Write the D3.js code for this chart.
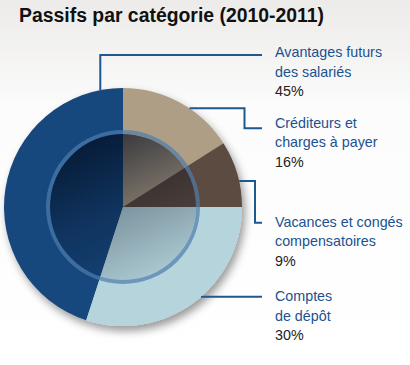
<!DOCTYPE html>
<html>
<head>
<meta charset="utf-8">
<script src="https://cdn.jsdelivr.net/npm/d3@7"></script>
<style>
  body { margin: 0; background: #fff; }
  svg { display: block; font-family: Arial, "Liberation Sans", sans-serif; }
</style>
</head>
<body>
<div id="chart"></div>
<script>
// data
var categories = ["Avantages futurs|des salariés", "Créditeurs et|charges à payer", "Vacances et congés|compensatoires", "Comptes|de dépôt"];
var values = [45, 16, 9, 30];
var percentLabels = ["45%", "16%", "9%", "30%"];
var colors = ["#17477d", "#ae9e86", "#5c4b41", "#b5d4dc"];

// label layout
var anchorAngles = [349, 34, 77.4, 138.4];   // degrees from 12 o'clock where the leader leaves the pie
var elbowX = [null, 244.5, 255, null];
var leaderY = [55, 128.3, 222.7, 296.8];
var labelBaseline = [57.3, 128.2, 227.2, 301.3];

var width = 410,
  height = 365,
  cx = 123,
  cy = 207,
  radius = 119,
  innerR = 75;

var svg = d3.select('#chart')
  .append('svg')
  .attr('width', width)
  .attr('height', height);

var defs = svg.append('defs');

var bg = defs.append('linearGradient').attr('id', 'bg')
  .attr('x1', 0).attr('y1', 0).attr('x2', 0).attr('y2', 1);
bg.append('stop').attr('offset', '0%').attr('stop-color', '#ecebe9');
bg.append('stop').attr('offset', '30%').attr('stop-color', '#fcfcfc');
bg.append('stop').attr('offset', '100%').attr('stop-color', '#ffffff');

var shade = defs.append('linearGradient').attr('id', 'shade')
  .attr('x1', 0.25).attr('y1', 0).attr('x2', 0.7).attr('y2', 1);
shade.append('stop').attr('offset', '0%').attr('stop-color', '#000a1c').attr('stop-opacity', 0.75);
shade.append('stop').attr('offset', '50%').attr('stop-color', '#000a1c').attr('stop-opacity', 0.32);
shade.append('stop').attr('offset', '100%').attr('stop-color', '#000a1c').attr('stop-opacity', 0.05);

var shadow = defs.append('filter').attr('id', 'shadow')
  .attr('x', '-20%').attr('y', '-20%').attr('width', '140%').attr('height', '140%');
shadow.append('feDropShadow')
  .attr('dx', 3).attr('dy', 5).attr('stdDeviation', 4)
  .attr('flood-color', '#000').attr('flood-opacity', 0.4);

svg.append('rect')
  .attr('width', width)
  .attr('height', height)
  .attr('fill', 'url(#bg)');

// title
svg.append('text')
  .attr('x', 19)
  .attr('y', 21.5)
  .style('font-size', '19.4px')
  .style('font-weight', 'bold')
  .style('fill', '#111')
  .text('Passifs par catégorie (2010-2011)');

var total = d3.sum(values);
var start = -values[0] / total * 2 * Math.PI;

var pie = d3.pie()
  .sort(null)
  .startAngle(start)
  .endAngle(start + 2 * Math.PI);

var arc = d3.arc()
  .innerRadius(0)
  .outerRadius(radius);

var g = svg.append('g')
  .attr('transform', 'translate(' + cx + ',' + cy + ')');

var slices = g.append('g')
  .attr('filter', 'url(#shadow)');

slices.selectAll('path')
  .data(pie(values))
  .enter()
  .append('path')
  .attr('d', arc)
  .attr('fill', function(d, i) { return colors[i]; });

// inner glassy disc
g.append('circle')
  .attr('r', innerR - 2)
  .attr('fill', 'url(#shade)');

g.append('circle')
  .attr('r', innerR)
  .attr('fill', 'none')
  .attr('stroke', '#4f7cad')
  .attr('stroke-opacity', 0.7)
  .attr('stroke-width', 4);

// leader lines
var lineEndX = 262;
var pt = function(deg) {
  var a = deg * Math.PI / 180;
  return [cx + radius * Math.sin(a), cy - radius * Math.cos(a)];
};

svg.append('g')
  .selectAll('polyline')
  .data(categories)
  .enter()
  .append('polyline')
  .attr('fill', 'none')
  .attr('stroke', '#1d5891')
  .attr('stroke-width', 2)
  .attr('points', function(d, i) {
    var p = pt(anchorAngles[i]);
    var ex = elbowX[i] == null ? p[0] : elbowX[i];
    return [p, [ex, p[1]], [ex, leaderY[i]], [lineEndX, leaderY[i]]];
  });

// labels
var labels = svg.append('g')
  .selectAll('text')
  .data(categories)
  .enter()
  .append('text')
  .attr('x', 275)
  .attr('y', function(d, i) { return labelBaseline[i]; })
  .style('font-size', '14.3px');

labels.each(function(d, i) {
  var t = d3.select(this);
  d.split('|').forEach(function(line, j) {
    t.append('tspan')
      .attr('x', 275)
      .attr('dy', j == 0 ? 0 : 19.2)
      .style('fill', '#1b5190')
      .text(line);
  });
  t.append('tspan')
    .attr('x', 275)
    .attr('dy', 19.2)
    .style('fill', '#222')
    .text(percentLabels[i]);
});
</script>
</body>
</html>
